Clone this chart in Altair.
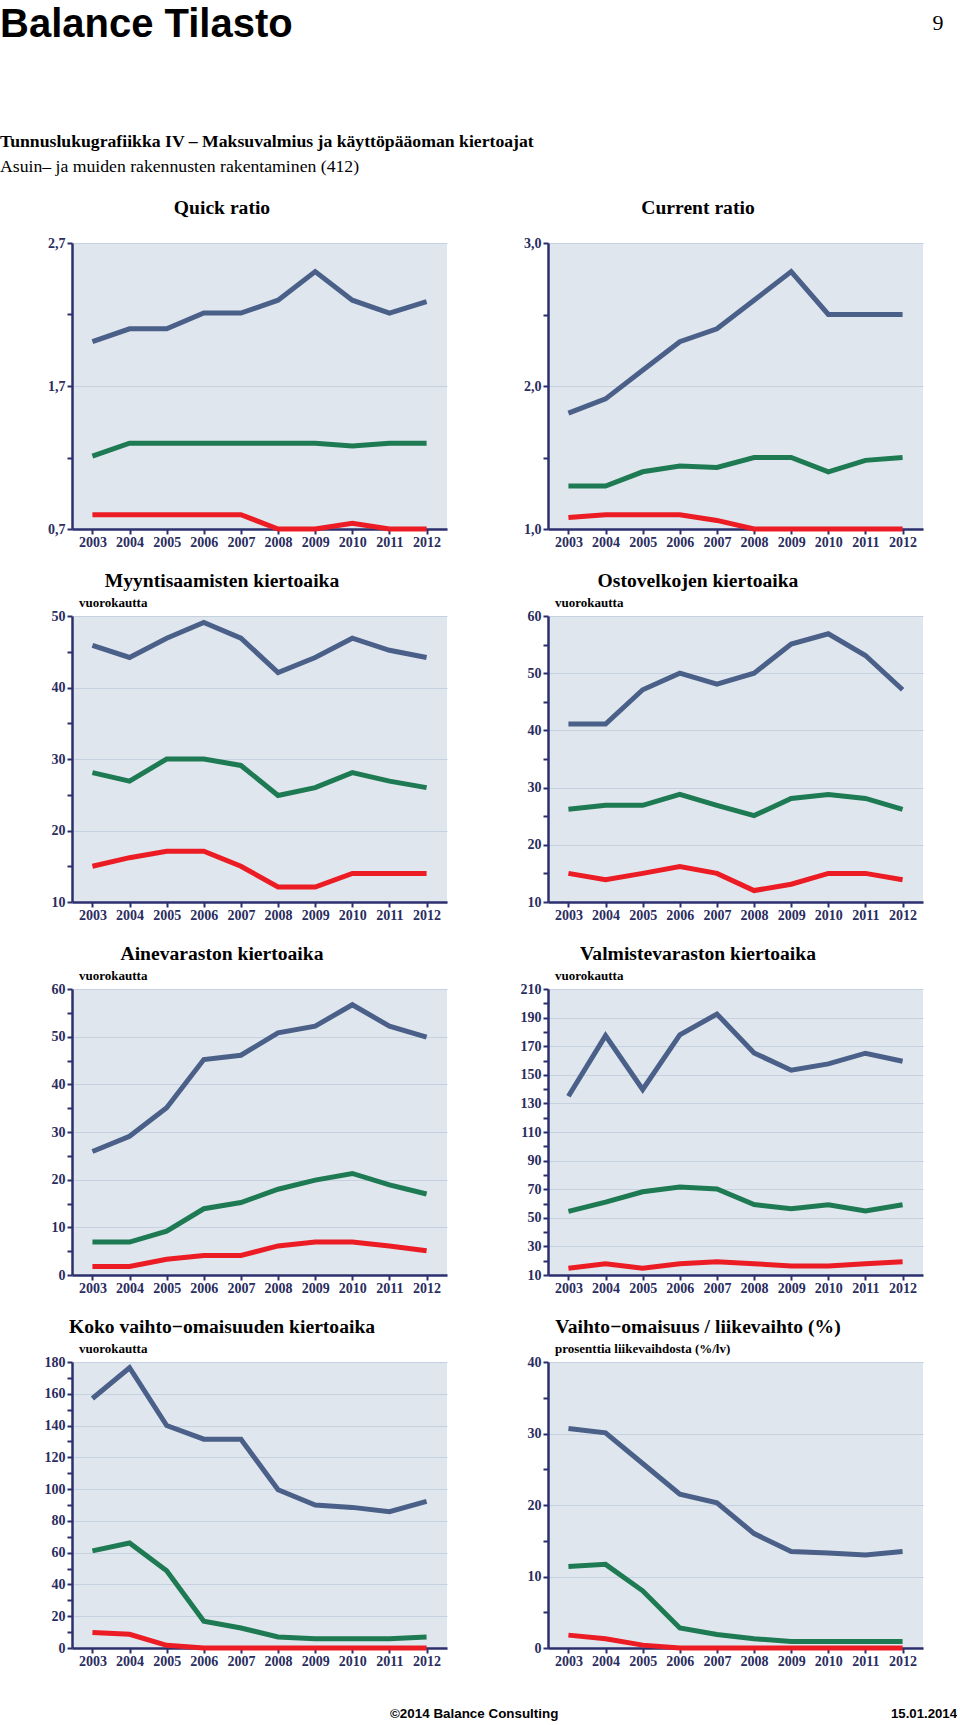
import altair as alt
import pandas as pd

# ---------------- data ----------------
years = [2003, 2004, 2005, 2006, 2007, 2008, 2009, 2010, 2011, 2012]
series_names = ["Yläkvartiili", "Mediaani", "Alakvartiili"]
series_colors = ["#4a6088", "#1e7a52", "#ec1c24"]

quick_blue = [2.01, 2.10, 2.10, 2.21, 2.21, 2.30, 2.50, 2.30, 2.21, 2.29]
quick_green = [1.21, 1.30, 1.30, 1.30, 1.30, 1.30, 1.30, 1.28, 1.30, 1.30]
quick_red = [0.80, 0.80, 0.80, 0.80, 0.80, 0.70, 0.70, 0.74, 0.70, 0.70]

current_blue = [1.81, 1.91, 2.11, 2.31, 2.40, 2.60, 2.80, 2.50, 2.50, 2.50]
current_green = [1.30, 1.30, 1.40, 1.44, 1.43, 1.50, 1.50, 1.40, 1.48, 1.50]
current_red = [1.08, 1.10, 1.10, 1.10, 1.06, 1.00, 1.00, 1.00, 1.00, 1.00]

myynti_blue = [45.9, 44.2, 46.9, 49.1, 46.9, 42.1, 44.2, 46.9, 45.2, 44.2]
myynti_green = [28.1, 26.9, 30.0, 30.0, 29.1, 24.9, 26.0, 28.1, 26.9, 26.0]
myynti_red = [15.0, 16.2, 17.1, 17.1, 15.0, 12.1, 12.1, 14.0, 14.0, 14.0]

osto_blue = [41.1, 41.1, 47.1, 50.0, 48.1, 50.0, 55.1, 56.9, 53.1, 47.1]
osto_green = [26.2, 26.9, 26.9, 28.8, 26.9, 25.1, 28.1, 28.8, 28.1, 26.2]
osto_red = [15.0, 13.9, 15.0, 16.2, 15.0, 12.0, 13.1, 15.0, 15.0, 13.9]

aine_blue = [25.9, 29.1, 35.1, 45.2, 46.1, 50.8, 52.2, 56.7, 52.2, 49.9]
aine_green = [6.9, 6.9, 9.2, 13.9, 15.2, 18.0, 19.9, 21.3, 18.9, 17.0]
aine_red = [1.8, 1.8, 3.3, 4.1, 4.1, 6.1, 6.9, 6.9, 6.1, 5.1]

valm_blue = [135.0, 177.4, 139.7, 177.9, 192.5, 165.3, 153.2, 157.6, 165.1, 159.5]
valm_green = [54.5, 61.0, 68.2, 71.5, 70.1, 59.3, 56.3, 59.1, 54.7, 59.1]
valm_red = [14.7, 17.9, 14.7, 17.9, 19.3, 17.9, 16.3, 16.3, 17.9, 19.3]

koko_blue = [157.0, 176.4, 140.0, 131.4, 131.4, 99.6, 90.0, 88.5, 85.8, 92.3]
koko_green = [61.1, 66.1, 48.6, 16.8, 12.6, 6.9, 5.9, 5.9, 5.9, 6.9]
koko_red = [9.8, 8.6, 1.7, 0.0, 0.0, 0.0, 0.0, 0.0, 0.0, 0.0]

vo_blue = [30.7, 30.1, 25.8, 21.5, 20.3, 16.0, 13.5, 13.3, 13.0, 13.5]
vo_green = [11.4, 11.7, 8.0, 2.8, 1.9, 1.3, 0.9, 0.9, 0.9, 0.9]
vo_red = [1.8, 1.3, 0.4, 0.0, 0.0, 0.0, 0.0, 0.0, 0.0, 0.0]

panel_titles = [
    "Quick ratio", "Current ratio",
    "Myyntisaamisten kiertoaika", "Ostovelkojen kiertoaika",
    "Ainevaraston kiertoaika", "Valmistevaraston kiertoaika",
    "Koko vaihto\u2212omaisuuden kiertoaika", "Vaihto\u2212omaisuus / liikevaihto (%)",
]
panel_units = ["", "", "vuorokautta", "vuorokautta", "vuorokautta", "vuorokautta",
               "vuorokautta", "prosenttia liikevaihdosta (%/lv)"]
panel_series = [
    (quick_blue, quick_green, quick_red), (current_blue, current_green, current_red),
    (myynti_blue, myynti_green, myynti_red), (osto_blue, osto_green, osto_red),
    (aine_blue, aine_green, aine_red), (valm_blue, valm_green, valm_red),
    (koko_blue, koko_green, koko_red), (vo_blue, vo_green, vo_red),
]
panel_domains = [[0.7, 2.7], [1.0, 3.0], [10, 50], [10, 60], [0, 60], [10, 210], [0, 180], [0, 40]]
panel_ticks = [
    [0.7, 1.2, 1.7, 2.2, 2.7], [1.0, 1.5, 2.0, 2.5, 3.0],
    list(range(10, 51, 5)), list(range(10, 61, 5)), list(range(0, 61, 5)),
    list(range(10, 211, 10)), list(range(0, 181, 10)), list(range(0, 41, 5)),
]
panel_labels = [
    [0.7, 1.7, 2.7], [1.0, 2.0, 3.0],
    list(range(10, 51, 10)), list(range(10, 61, 10)), list(range(0, 61, 10)),
    list(range(10, 211, 20)), list(range(0, 181, 20)), list(range(0, 41, 10)),
]
panel_decimals = [True, True, False, False, False, False, False, False]

header_title = "Balance Tilasto"
page_number = "9"
header_line1 = "Tunnuslukugrafiikka IV \u2013 Maksuvalmius ja käyttöpääoman kiertoajat"
header_line2 = "Asuin\u2013 ja muiden rakennusten rakentaminen (412)"
footer_left = "©2014 Balance Consulting"
footer_right = "15.01.2014"

# ---------------- style ----------------
SERIF = "Liberation Serif"
SANS = "Liberation Sans"
NAVY = "#2c2f6e"
LABEL_NAVY = "#2a2d5e"
W, H = 375, 286


def text_layer(text, x, y, size, font=SERIF, weight="bold", align="left",
               baseline="alphabetic", color="black"):
    return alt.Chart(pd.DataFrame({"label": [text]})).mark_text(
        align=align, baseline=baseline, font=font, fontSize=size,
        fontWeight=weight, color=color
    ).encode(text="label:N", x=alt.value(x), y=alt.value(y))


def make_panel(i, extra=()):
    blue, green, red = panel_series[i]
    df = pd.DataFrame({
        "Vuosi": [str(y) for y in years] * 3,
        "Arvo": list(blue) + list(green) + list(red),
        "Sarja": [series_names[0]] * 10 + [series_names[1]] * 10 + [series_names[2]] * 10,
    })
    labels = panel_labels[i]
    arr = "[" + ",".join(repr(v) for v in labels) + "]"
    if panel_decimals[i]:
        fmt = "replace(format(datum.value, '.1f'), '.', ',')"
    else:
        fmt = "format(datum.value, 'd')"
    lab_expr = f"indexof({arr}, datum.value) >= 0 ? {fmt} : ''"
    grid_test = f"indexof({arr}, datum.value) >= 0"
    lines = alt.Chart(df).mark_line(strokeWidth=5).encode(
        x=alt.X("Vuosi:O", scale=alt.Scale(type="point", padding=0.55),
                axis=alt.Axis(title=None, labelAngle=0, grid=False, labelPadding=1)),
        y=alt.Y("Arvo:Q", scale=alt.Scale(domain=panel_domains[i], nice=False, zero=False),
                axis=alt.Axis(title=None, values=panel_ticks[i], labelExpr=lab_expr,
                              grid=True,
                              gridOpacity={"condition": {"test": grid_test, "value": 1}, "value": 0})),
        color=alt.Color("Sarja:N", scale=alt.Scale(domain=series_names, range=series_colors),
                        legend=None),
    )
    layers = [lines, text_layer(panel_titles[i], 150, -29, 19.6, align="center")]
    if panel_units[i]:
        layers.append(text_layer(panel_units[i], 7, -9, 13))
    layers.extend(extra)
    return alt.layer(*layers).properties(width=W, height=H)


header = [
    text_layer(header_title, -72, -238, 40, font=SANS, baseline="top"),
    text_layer(page_number, 866, -213, 22, weight="normal", align="center"),
    text_layer(header_line1, -72, -96.5, 17.7),
    text_layer(header_line2, -72, -71, 17.7, weight="normal"),
]
footer = [
    text_layer(footer_left, 318, 356, 13.4, font=SANS),
    text_layer(footer_right, 885, 356, 13.2, font=SANS, align="right"),
]

panels = []
for i in range(8):
    extra = header if i == 0 else (footer if i == 6 else ())
    panels.append(make_panel(i, extra))

chart = alt.concat(*panels, columns=2, spacing={"row": 87, "column": 101},
                   bounds="flush").properties(
    padding={"left": 0, "top": 5, "right": 0, "bottom": 0}, background="white"
).configure_view(
    fill="#dfe6ee", strokeWidth=0
).configure_axis(
    domainColor=NAVY, domainWidth=2.5, tickColor=NAVY, tickWidth=2, tickSize=5,
    labelFont=SERIF, labelFontWeight="bold", labelFontSize=14, labelColor=LABEL_NAVY,
    gridColor="#c6d1df", gridWidth=1, labelPadding=2, labelOverlap=False
)

chart.save("out.html", embed_options={"renderer": "svg", "actions": False})
